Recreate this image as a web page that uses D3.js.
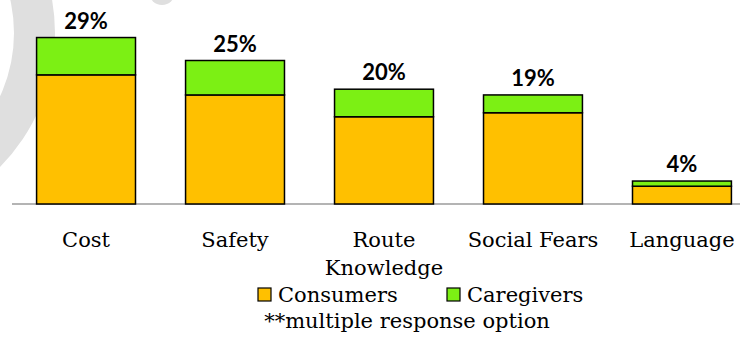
<!DOCTYPE html>
<html>
<head>
<meta charset="utf-8">
<script src="https://cdn.jsdelivr.net/npm/d3@7"></script>
<style>
  html, body { margin: 0; padding: 0; background: #fff; }
  svg { display: block; }
</style>
</head>
<body>
<svg id="chart" width="740" height="337"></svg>
<script>
// Barriers reported, stacked by respondent group (percent of responses)
const categories = ["Cost", "Safety", "Route Knowledge", "Social Fears", "Language"];
const consumers  = [22.5, 19.0, 15.2, 15.9, 3.1];
const caregivers = [6.5, 6.0, 4.8, 3.1, 0.9];
const seriesNames = ["Consumers", "Caregivers"];
const seriesColors = ["#FFC000", "#7CF014"];
const footnote = "**multiple response option";

const svg = d3.select("#chart");
const W = 740, H = 337;

// faint background emblem
const bg = svg.append("g").attr("fill", "#dfdfdf");
bg.append("path")
  .attr("d", d3.arc()({innerRadius: 150, outerRadius: 191, startAngle: 0, endAngle: 2 * Math.PI}))
  .attr("transform", "translate(-136,33)");
bg.append("circle").attr("cx", 162).attr("cy", -8).attr("r", 13);

const baseY = 204;
const x = d3.scaleBand()
  .domain(categories)
  .range([12, 756])
  .paddingInner(0.336)
  .paddingOuter(0.165);

const y = d3.scaleLinear()
  .domain([0, 30])
  .range([baseY, baseY - 30 * 5.74]);

const rows = categories.map((c, i) => ({
  cat: c, Consumers: consumers[i], Caregivers: caregivers[i]
}));
const stacked = d3.stack().keys(seriesNames)(rows);

// baseline
svg.append("line")
  .attr("x1", 12).attr("x2", W)
  .attr("y1", baseY).attr("y2", baseY)
  .attr("stroke", "#6b6b6b").attr("stroke-width", 1.2);

// stacked bars
svg.append("g").selectAll("g")
  .data(stacked)
  .join("g")
  .attr("fill", (d, i) => seriesColors[i])
  .selectAll("rect")
  .data(d => d)
  .join("rect")
  .attr("x", d => x(d.data.cat))
  .attr("y", d => y(d[1]))
  .attr("width", x.bandwidth())
  .attr("height", d => y(d[0]) - y(d[1]))
  .attr("stroke", "#000")
  .attr("stroke-width", 1.5);

// totals above bars
svg.append("g").selectAll("text")
  .data(rows)
  .join("text")
  .attr("x", d => x(d.cat) + x.bandwidth() / 2)
  .attr("y", d => y(d.Consumers + d.Caregivers) - 9)
  .attr("text-anchor", "middle")
  .attr("font-family", "Lato, 'Open Sans', sans-serif")
  .attr("font-weight", 700)
  .attr("font-size", 22)
  .attr("fill", "#000")
  .text(d => Math.round(d.Consumers + d.Caregivers) + "%");

// category labels, wrapped when wider than the band step
const serif = "'DejaVu Serif', serif";
const catLabels = svg.append("g").selectAll("text")
  .data(categories)
  .join("text")
  .attr("x", d => x(d) + x.bandwidth() / 2)
  .attr("y", 247)
  .attr("text-anchor", "middle")
  .attr("font-family", serif)
  .attr("font-size", 21)
  .attr("fill", "#000")
  .text(d => d);

catLabels.each(function(d) {
  const t = d3.select(this);
  if (this.getComputedTextLength() > 145) {
    const words = d.split(" ");
    const cx = t.attr("x");
    t.text(null);
    words.forEach((w, i) => {
      t.append("tspan").attr("x", cx).attr("dy", i === 0 ? 0 : 28).text(w);
    });
  }
});

// legend
const legendItems = [
  {name: seriesNames[0], color: seriesColors[0], sx: 258},
  {name: seriesNames[1], color: seriesColors[1], sx: 447}
];
const lg = svg.append("g");
lg.selectAll("rect")
  .data(legendItems)
  .join("rect")
  .attr("x", d => d.sx).attr("y", 288)
  .attr("width", 13).attr("height", 13)
  .attr("fill", d => d.color)
  .attr("stroke", "#000").attr("stroke-width", 1.2);
lg.selectAll("text")
  .data(legendItems)
  .join("text")
  .attr("x", d => d.sx + 20).attr("y", 302)
  .attr("font-family", serif)
  .attr("font-size", 21)
  .attr("fill", "#000")
  .text(d => d.name);

svg.append("text")
  .attr("x", 407).attr("y", 328)
  .attr("text-anchor", "middle")
  .attr("font-family", serif)
  .attr("font-size", 21)
  .attr("fill", "#000")
  .text(footnote);
</script>
</body>
</html>
